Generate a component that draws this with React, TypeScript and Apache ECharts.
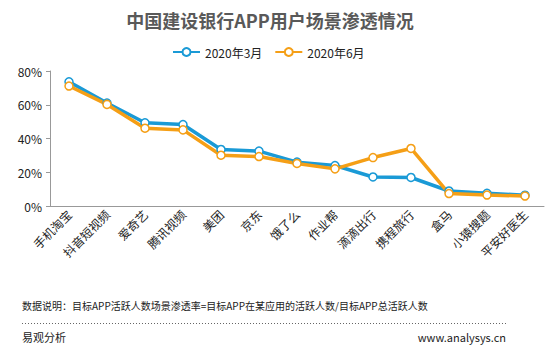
import React, { useEffect, useRef } from "react";
import * as echarts from "echarts";

const categories = ["手机淘宝", "抖音短视频", "爱奇艺", "腾讯视频", "美团", "京东", "饿了么", "作业帮", "滴滴出行", "携程旅行", "盒马", "小猿搜题", "平安好医生"];
const march = [73.6, 61.0, 49.3, 48.3, 33.5, 32.5, 26.0, 24.0, 17.2, 16.9, 8.9, 7.5, 6.4];
const june = [71.1, 60.2, 46.1, 45.1, 30.1, 29.3, 25.2, 22.0, 28.7, 34.1, 7.4, 6.5, 5.9];
const seriesNames = ["2020年3月", "2020年6月"];
const yTicks = [0, 20, 40, 60, 80];

const FONT = "'Noto Sans CJK SC', 'Noto Sans', sans-serif";
const BLUE = "#1a9ad6";
const ORANGE = "#f59f16";

export default function App() {
  const ref = useRef<HTMLDivElement>(null);
  useEffect(() => {
    if (!ref.current) return;
    const chart = echarts.init(ref.current, undefined, { renderer: "svg" });
    const mkSeries = (name: string, data: number[], color: string) => ({
      name,
      type: "line",
      data,
      symbol: "circle",
      symbolSize: 8,
      showSymbol: true,
      lineStyle: { color, width: 3.5 },
      itemStyle: { color: "#ffffff", borderColor: color, borderWidth: 1.5 },
      emphasis: { disabled: true },
    });
    chart.setOption({
      animation: false,
      textStyle: { fontFamily: FONT },
      title: {
        text: "中国建设银行APP用户场景渗透情况",
        left: 265,
        textAlign: "center",
        top: 6,
        textStyle: { fontFamily: FONT, fontSize: 18, fontWeight: "bold", color: "#595959" },
      },
      legend: {
        data: seriesNames.map((n, i) => ({ name: n, itemStyle: { color: "#fff", borderColor: i === 0 ? BLUE : ORANGE } })),
        left: 167,
        top: 41,
        itemWidth: 27,
        itemHeight: 10,
        itemGap: 12,
        textStyle: { fontFamily: FONT, fontSize: 12, color: "#222" },
      },
      grid: { left: 50, right: 8, top: 71, bottom: 145, containLabel: false },
      xAxis: {
        type: "category",
        data: categories,
        boundaryGap: true,
        axisLine: { lineStyle: { color: "#999", width: 1 } },
        axisTick: { show: false },
        axisLabel: { rotate: 45, interval: 0, fontSize: 12, color: "#222", fontFamily: FONT, margin: 6 },
      },
      yAxis: {
        type: "value",
        min: 0,
        max: 80,
        interval: 20,
        axisLine: { show: true, lineStyle: { color: "#999", width: 1 } },
        axisTick: { show: true, length: 4, lineStyle: { color: "#999" } },
        splitLine: { show: false },
        axisLabel: {
          fontSize: 12,
          color: "#222",
          fontFamily: FONT,
          margin: 8,
          formatter: (v: number) => (yTicks.includes(v) ? v + "%" : ""),
        },
      },
      series: [mkSeries(seriesNames[0], march, BLUE), mkSeries(seriesNames[1], june, ORANGE)],
      graphic: [
        {
          type: "text",
          left: 22,
          top: 300,
          style: {
            text: "数据说明：目标APP活跃人数场景渗透率=目标APP在某应用的活跃人数/目标APP总活跃人数",
            font: `10px ${FONT}`,
            fill: "#222",
          },
        },
        {
          type: "line",
          shape: { x1: 22, y1: 323.5, x2: 507, y2: 323.5 },
          style: { stroke: "#666", lineWidth: 1, lineDash: [1, 2] },
        },
        {
          type: "text",
          left: 22,
          top: 331,
          style: { text: "易观分析", font: `11px ${FONT}`, fill: "#222" },
        },
        {
          type: "text",
          right: 46,
          top: 331,
          style: { text: "www.analysys.cn", font: `11px ${FONT}`, fill: "#222" },
        },
      ],
    });
    return () => chart.dispose();
  }, []);
  return <div ref={ref} style={{ width: 552, height: 351, position: "absolute", left: 0, top: 0 }} />;
}
